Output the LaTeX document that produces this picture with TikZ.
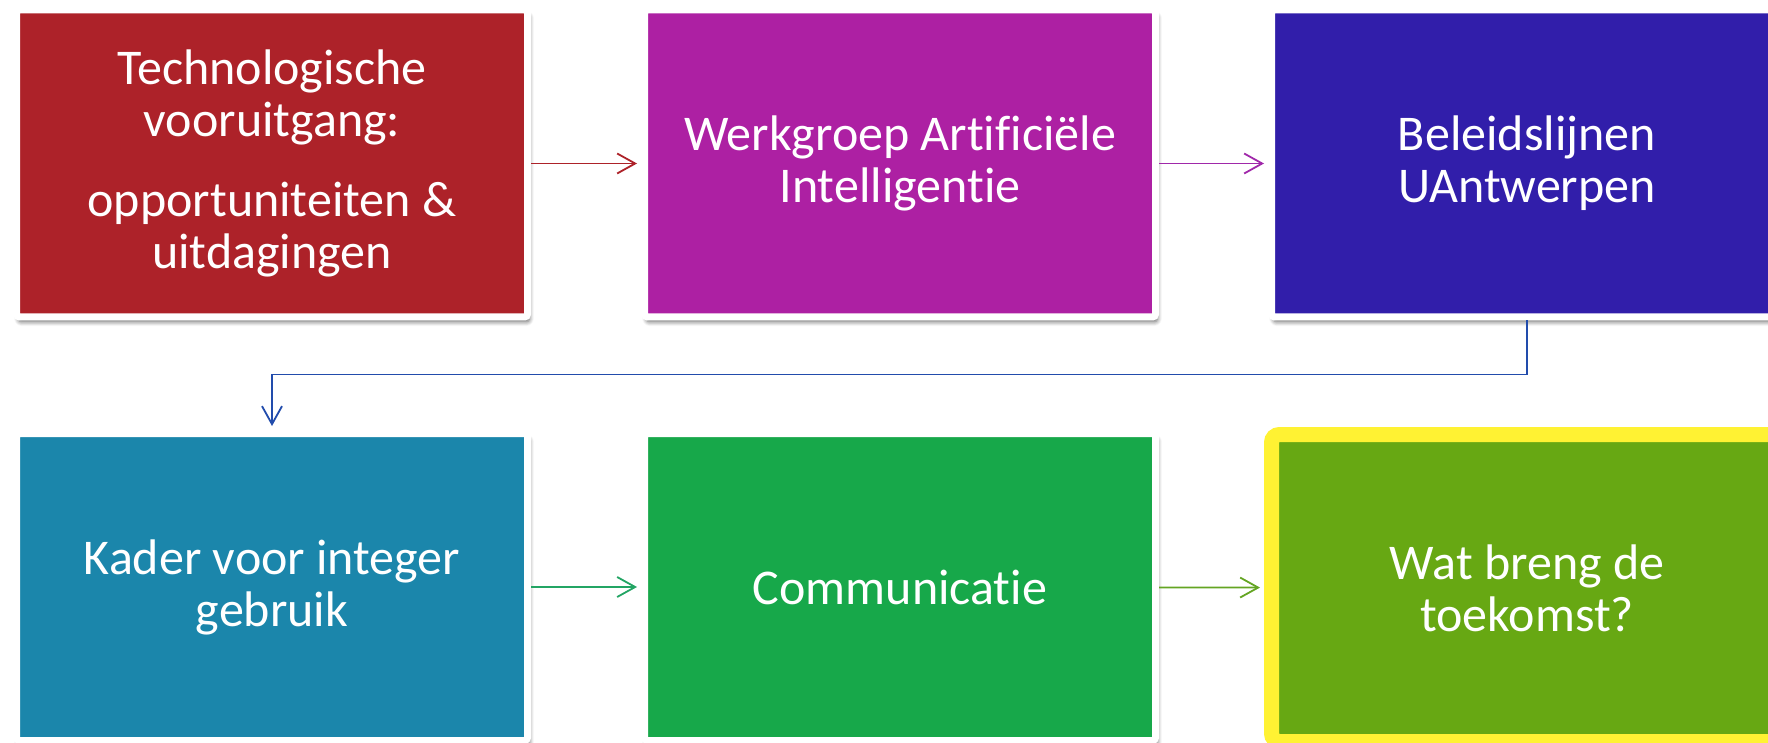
\documentclass[tikz,border=0pt]{standalone}
\usepackage{fontspec}
\setmainfont{Carlito}[Ligatures=NoCommon]
\usetikzlibrary{arrows.meta,shadows.blur}

\definecolor{techred}{RGB}{173,34,41}
\definecolor{werkpurple}{RGB}{173,32,163}
\definecolor{beleidblue}{RGB}{49,30,170}
\definecolor{kaderteal}{RGB}{27,134,171}
\definecolor{commgreen}{RGB}{23,168,74}
\definecolor{toekgreen}{RGB}{103,168,19}
\definecolor{toekyellow}{RGB}{255,242,51}
\definecolor{elbowblue}{RGB}{34,76,172}
\definecolor{arrowpurple}{RGB}{160,40,170}
\definecolor{arrowgreen}{RGB}{35,165,100}
\definecolor{arrowolive}{RGB}{100,165,35}

\tikzset{
  stage/.style={minimum width=511*0.5pt, minimum height=307*0.5pt,
    align=center, text=white,
    font=\fontsize{25}{26}\selectfont,
    draw=white, line width=3.5pt, rounded corners=1.5pt},
  shadowed/.style={blur shadow={shadow xshift=1pt, shadow yshift=-2.4pt,
    shadow blur steps=8, shadow blur radius=2.2pt, shadow opacity=60}},
  flow/.style={-{Straight Barb[length=9pt,width=10pt]}, line width=0.9pt,
    shorten >=2pt}
}

\begin{document}
\begin{tikzpicture}[x=0.5pt, y=-0.5pt]
  \useasboundingbox (0,0) rectangle (1768,743);
  \clip (0,0) rectangle (1768,743);
  \draw
    (272,163.5) node[stage, shadowed, fill=techred] (tech)
      {Technologische\\vooruitgang:\\[14pt]opportuniteiten \&\\uitdagingen}
    (900,163.5) node[stage, shadowed, fill=werkpurple] (werk)
      {Werkgroep Artificiële\\Intelligentie}
    (1527,163.5) node[stage, shadowed, fill=beleidblue] (beleid)
      {Beleidslijnen\\UAntwerpen}
    (272,587) node[stage, shadowed, fill=kaderteal] (kader)
      {Kader voor integer\\gebruik}
    (900,587) node[stage, shadowed, fill=commgreen] (comm)
      {Communicatie}
    (1527,588) node[stage, fill=toekgreen, draw=toekyellow,
      line width=7.5pt, rounded corners=4pt] (toek)
      {Wat breng de\\toekomst?};
  \begin{scope}[flow]
    \draw[techred] (tech) to (werk);
    \draw[arrowpurple] (werk) to (beleid);
    \draw[elbowblue] (beleid.south) -- ++(0,54) -| (kader.north);
    \draw[arrowgreen] (kader) to (comm);
    \draw[arrowolive] (comm) to (toek);
  \end{scope}
\end{tikzpicture}
\end{document}
